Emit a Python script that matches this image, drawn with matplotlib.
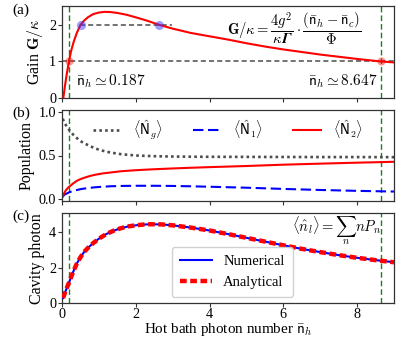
import matplotlib
matplotlib.use("Agg")
import matplotlib.pyplot as plt

plt.rcParams['font.family'] = 'serif'
plt.rcParams['font.serif'] = ['Liberation Serif', 'DejaVu Serif']
plt.rcParams['mathtext.fontset'] = 'cm'
plt.rcParams['font.size'] = 11.5

# ---------------- data ----------------
thresholds = [0.187, 8.647]
gain_two_pts = [0.52, 2.63]

n_gain = [0.036, 0.08, 0.12, 0.187, 0.25, 0.32, 0.40, 0.50, 0.60, 0.70, 0.85, 1.00,
          1.15, 1.30, 1.50, 1.75, 2.00, 2.30, 2.65, 3.00, 3.50, 4.00, 4.50, 5.00,
          5.50, 6.00, 6.50, 7.00, 7.50, 8.00, 8.647, 9.00]
gain = [0.00, 0.33, 0.60, 1.00, 1.30, 1.55, 1.78, 2.00, 2.12, 2.21, 2.30, 2.34,
        2.36, 2.355, 2.33, 2.28, 2.21, 2.12, 2.00, 1.90, 1.78, 1.69, 1.60, 1.50,
        1.41, 1.33, 1.26, 1.19, 1.13, 1.07, 1.00, 0.975]

n_pop = [0.02, 0.06, 0.10, 0.15, 0.20, 0.30, 0.40, 0.50, 0.60, 0.75, 0.90, 1.10,
         1.30, 1.60, 2.00, 2.50, 3.00, 3.50, 4.00, 5.00, 6.00, 7.00, 8.00, 9.00]
pop_Ng = [0.92, 0.88, 0.85, 0.82, 0.79, 0.74, 0.70, 0.665, 0.64, 0.61, 0.58, 0.555,
          0.535, 0.515, 0.50, 0.492, 0.488, 0.486, 0.485, 0.484, 0.483, 0.482, 0.482, 0.481]
pop_N1 = [0.03, 0.05, 0.06, 0.07, 0.08, 0.095, 0.105, 0.115, 0.122, 0.13, 0.137, 0.143,
          0.148, 0.152, 0.154, 0.154, 0.152, 0.148, 0.143, 0.132, 0.118, 0.106, 0.096, 0.088]
pop_N2 = [0.03, 0.07, 0.10, 0.125, 0.145, 0.18, 0.21, 0.23, 0.245, 0.265, 0.28, 0.295,
          0.305, 0.32, 0.332, 0.343, 0.352, 0.36, 0.367, 0.38, 0.395, 0.407, 0.418, 0.428]

n_cav = [0.03, 0.10, 0.187, 0.30, 0.40, 0.50, 0.60, 0.70, 0.85, 1.00, 1.20, 1.40,
         1.60, 1.80, 2.00, 2.20, 2.40, 2.70, 3.00, 3.50, 4.00, 4.50, 5.00, 5.50,
         6.00, 6.50, 7.00, 7.50, 8.00, 8.50, 9.00]
cav_numerical = [0.30, 0.70, 1.15, 1.75, 2.22, 2.58, 2.88, 3.10, 3.38, 3.62, 3.88, 4.07,
                 4.21, 4.31, 4.37, 4.41, 4.43, 4.42, 4.37, 4.24, 4.08, 3.88, 3.67, 3.46,
                 3.25, 3.05, 2.87, 2.70, 2.55, 2.42, 2.30]
cav_analytical = list(cav_numerical)

xticks = [0, 2, 4, 6, 8]

# ---------------- figure ----------------
fig = plt.figure(figsize=(4.15, 3.38), dpi=100)
W, H = 415, 338
def box(l, t, r, b):
    return [l / W, 1 - b / H, (r - l) / W, (b - t) / H]

axa = fig.add_axes(box(62, 6, 394, 98))
axb = fig.add_axes(box(62, 110, 394, 201))
axc = fig.add_axes(box(62, 213, 394, 303.3))

spine_col = '0.2'
for ax in (axa, axb, axc):
    ax.set_xlim(0, 9)
    ax.set_xticks(xticks)
    for s in ax.spines.values():
        s.set_color(spine_col)
        s.set_linewidth(0.9)
    ax.tick_params(direction='out', length=3, width=0.8, color=spine_col,
                   labelsize=10.2, pad=1.2)
    ax.tick_params(axis='x', pad=0.4)
    for t in thresholds:
        ax.axvline(t, color='#1f7f1f', lw=1.0, dashes=(4, 2.2), zorder=1)

axa.tick_params(labelbottom=False)
axb.tick_params(labelbottom=False)

# ---- (a) ----
axa.axhline(1, color='0.45', lw=1.4, dashes=(2.6, 1.6), zorder=1)
axa.plot([0.5, 2.98], [2, 2], color='0.45', lw=1.4, dashes=(2.6, 1.6), zorder=1)
axa.plot(n_gain, gain, color='red', lw=1.5, zorder=3)
axa.plot(thresholds, [1, 1], 'o', color='red', alpha=0.4, ms=6, mec='none', zorder=4)
axa.plot(gain_two_pts, [2, 2], 'o', color='#3a3aff', alpha=0.5, ms=6.5, mec='none', zorder=4)
axa.set_ylim(0, 2.52)
axa.set_yticks([0, 1, 2])
axa.set_ylabel(r'Gain $\mathbf{G}/\kappa$', labelpad=3)
axa.text(0.38, 0.45, r'$\bar{\mathsf{n}}_h\simeq 0.187$', fontsize=11, va='center', ha='left')
axa.text(8.55, 0.45, r'$\bar{\mathsf{n}}_h\simeq 8.647$', fontsize=11, va='center', ha='right')
axa.text(6.28, 1.92, r'$\mathbf{G}/\kappa=\dfrac{4g^2}{\kappa\mathbfit{\Gamma}}\cdot\dfrac{(\bar{\mathsf{n}}_h-\bar{\mathsf{n}}_c)}{\mathbf{\Phi}}$',
         fontsize=10.5, ha='center', va='center')

# ---- (b) ----
axb.plot(n_pop, pop_Ng, color='0.3', lw=1.9, dashes=(1, 1.2), label=r'$\langle\hat{\mathsf{N}}_g\rangle$')
axb.plot(n_pop, pop_N1, color='blue', lw=1.5, dashes=(5, 2.2), label=r'$\langle\hat{\mathsf{N}}_1\rangle$')
axb.plot(n_pop, pop_N2, color='red', lw=1.5, label=r'$\langle\hat{\mathsf{N}}_2\rangle$')
axb.set_ylim(-0.02, 1.02)
axb.set_yticks([0.0, 0.5, 1.0])
axb.set_ylabel('Population', labelpad=3)
axb.legend(loc='center', bbox_to_anchor=(0.5, 0.78), ncol=3, frameon=False,
           fontsize=10, handlelength=2.0, columnspacing=2.15, handletextpad=0.9)

# ---- (c) ----
axc.plot(n_cav, cav_numerical, color='blue', lw=1.5, label='Numerical', zorder=3)
axc.plot(n_cav, cav_analytical, color='red', lw=3.2, dashes=(1.5, 0.8), label='Analytical', zorder=4)
axc.set_ylim(0, 5.06)
axc.set_yticks([0, 2, 4])
axc.set_ylabel('Cavity photon', labelpad=3)
xl = axc.set_xlabel(r'Hot bath photon number $\bar{\mathsf{n}}_h$', fontsize=10.9)
xl.set_va('baseline')
axc.xaxis.set_label_coords(0.5, -0.328)
axc.legend(loc='lower left', bbox_to_anchor=(0.33, 0.07), borderaxespad=0,
           fontsize=10.5, handlelength=2.2, borderpad=0.55, labelspacing=0.5,
           framealpha=0.9)
axc.text(7.45, 4.05, r'$\langle\hat{n}_l\rangle=\sum_n nP_n$', fontsize=10.5, ha='center', va='center')

fig.text(12 / W, 1 - 10 / H, '(a)', fontsize=11, va='center', ha='left')
fig.text(12 / W, 1 - 113 / H, '(b)', fontsize=11, va='center', ha='left')
fig.text(12 / W, 1 - 216 / H, '(c)', fontsize=11, va='center', ha='left')

fig.savefig('out.png', dpi=100)
